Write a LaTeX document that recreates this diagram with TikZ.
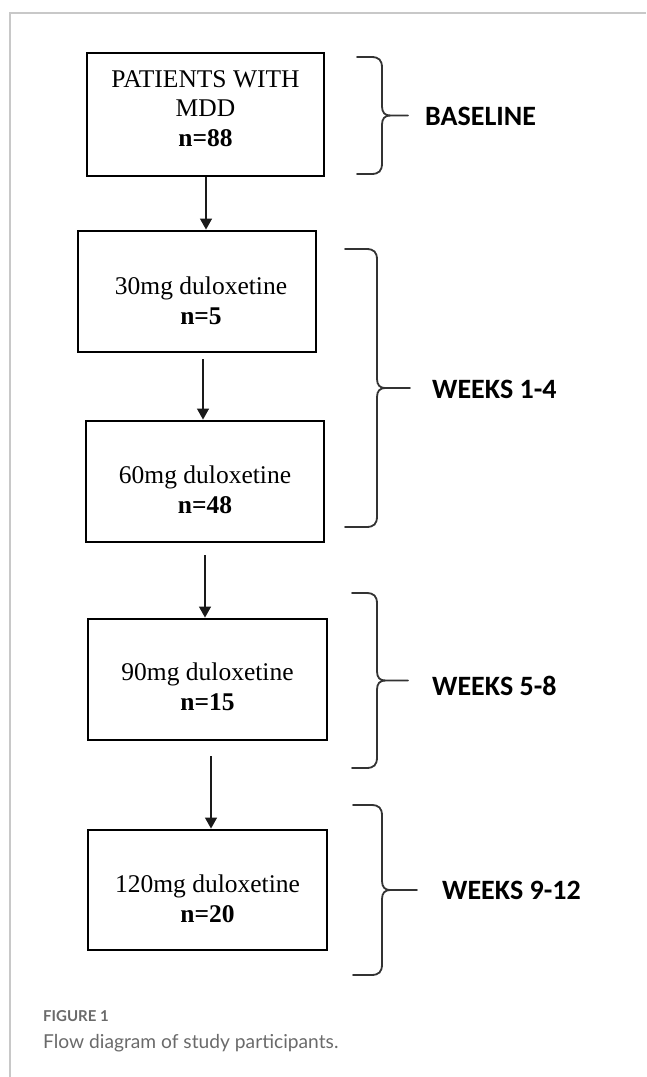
\documentclass[tikz,border=0pt]{standalone}
\usepackage{fontspec}
\setmainfont{Liberation Serif}
\newfontfamily\calib{Carlito}
\newfontfamily\latofont{Lato}
\usetikzlibrary{arrows.meta}
\definecolor{framegray}{HTML}{C8C8C8}
\definecolor{bracegray}{HTML}{333333}
\definecolor{capgray}{HTML}{6A6A6A}
\definecolor{arrowblack}{HTML}{1A1A1A}
\newcommand\stagebrace[5]{%
  \draw[bracestyle] (#1,#3) -- ({#2-11},#3) .. controls ({#2-3},#3) and (#2,{#3+3}) .. (#2,{#3+11})
    -- (#2,{(#3+#4)/2-9}) .. controls (#2,{(#3+#4)/2-3}) and ({#2+3},{(#3+#4)/2}) .. ({#2+8},{(#3+#4)/2})
    -- (#5,{(#3+#4)/2});
  \draw[bracestyle] ({#2+8},{(#3+#4)/2}) .. controls ({#2+3},{(#3+#4)/2}) and (#2,{(#3+#4)/2+3}) .. (#2,{(#3+#4)/2+9})
    -- (#2,{#4-11}) .. controls (#2,{#4-3}) and ({#2-3},#4) .. ({#2-11},#4) -- (#1,#4);
}
\begin{document}
\begin{tikzpicture}[x=1pt,y=-1pt,
  stagebox/.style={draw=black, line width=2.9pt, inner sep=0pt, fill=white},
  stagetext/.style={anchor=north, inner sep=0pt, align=center, font=\fontsize{25.5}{29.8}\selectfont},
  flowarrow/.style={draw=arrowblack, line width=1.3pt, -{Triangle[width=12pt,length=11pt]}},
  bracestyle/.style={draw=bracegray, line width=1.8pt, line cap=round},
  phase/.style={anchor=west, inner sep=0pt, font=\calib\bfseries\fontsize{28}{32}\selectfont}]
\useasboundingbox (0,0) rectangle (646,1077);
% frame
\draw[framegray, line width=1.3pt] (10,1077) -- (10,13) -- (646,13);
% boxes
\node[stagebox, minimum width=237pt, minimum height=123pt] (b1) at (205.5,114.5) {};
\node[stagebox, minimum width=238pt, minimum height=121pt] (b2) at (197,291.5) {};
\node[stagebox, minimum width=238pt, minimum height=121pt] (b3) at (205,481.5) {};
\node[stagebox, minimum width=239pt, minimum height=121pt] (b4) at (207.5,679.5) {};
\node[stagebox, minimum width=239pt, minimum height=120pt] (b5) at (207.5,890) {};
% texts
\node[stagetext] (t1) at (205.5,70.1) {PATIENTS WITH\\MDD\\\textbf{n=88}};
\node[stagetext] (t2) at (201,276.6) {30mg duloxetine\\\textbf{n=5}};
\node[stagetext] (t3) at (205,465.3) {60mg duloxetine\\\textbf{n=48}};
\node[stagetext] (t4) at (207.5,662.6) {90mg duloxetine\\\textbf{n=15}};
\node[stagetext] (t5) at (207.5,874.3) {120mg duloxetine\\\textbf{n=20}};
% arrows
\draw[flowarrow] ([xshift=0.5pt]b1.south) -- ([xshift=0.5pt]b1.south |- b2.north);
\draw[flowarrow, shorten <=6pt] ([xshift=6pt]b2.south) -- ([xshift=6pt]b2.south |- b3.north);
\draw[flowarrow, shorten <=12pt] (b3.south) -- (b3.south |- b4.north);
\draw[flowarrow, shorten <=15pt] ([xshift=3.5pt]b4.south) -- ([xshift=3.5pt]b4.south |- b5.north);
% braces
\stagebrace{357}{382}{57}{174}{408}
\stagebrace{345}{377}{249}{527}{410}
\stagebrace{352}{377}{593}{768}{408}
\stagebrace{353}{382}{805}{975}{417}
% phase labels
\node[phase] (p1) at (425,116) {BASELINE};
\node[phase] (p2) at (432,389) {WEEKS 1-4};
\node[phase] (p3) at (432,686) {WEEKS 5-8};
\node[phase] (p4) at (442,890) {WEEKS 9-12};
% caption
\node[anchor=base west, inner sep=0pt, text=capgray, font=\latofont\bfseries\fontsize{15}{18}\selectfont] (figlab) at (43,1021.7) {FIGURE 1};
\node[anchor=base west, inner sep=0pt, text=capgray, font=\latofont\fontsize{19.2}{24}\selectfont] (figcap) at (43,1048) {Flow diagram of study participants.};
\end{tikzpicture}
\end{document}
